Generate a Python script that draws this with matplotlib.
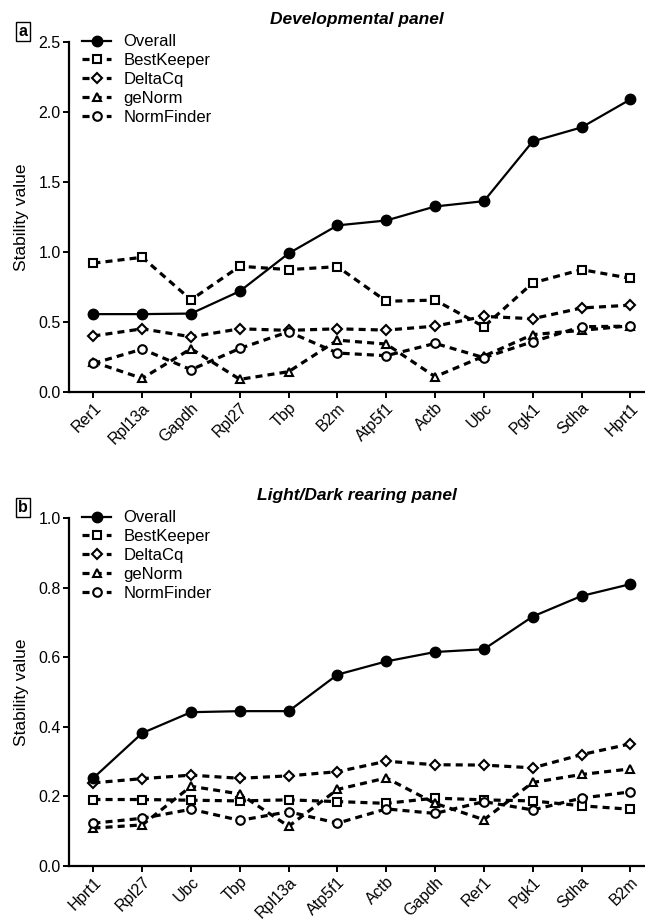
import numpy as np
import matplotlib
matplotlib.use("Agg")
import matplotlib.pyplot as plt

plt.rcParams['font.family'] = ['Liberation Sans', 'DejaVu Sans']

# panel a - developmental
genes_a = ["Rer1", "Rpl13a", "Gapdh", "Rpl27", "Tbp", "B2m", "Atp5f1", "Actb", "Ubc", "Pgk1", "Sdha", "Hprt1"]
overall_a = [0.556, 0.556, 0.56, 0.72, 0.99, 1.19, 1.225, 1.325, 1.363, 1.79, 1.89, 2.09]
bestkeeper_a = [0.92, 0.962, 0.658, 0.898, 0.874, 0.895, 0.648, 0.656, 0.466, 0.779, 0.874, 0.812]
deltacq_a = [0.40, 0.451, 0.394, 0.451, 0.44, 0.451, 0.442, 0.47, 0.54, 0.523, 0.60, 0.62]
genorm_a = [0.214, 0.097, 0.309, 0.09, 0.145, 0.37, 0.342, 0.109, 0.256, 0.41, 0.44, 0.473]
normfinder_a = [0.204, 0.306, 0.159, 0.311, 0.43, 0.278, 0.259, 0.347, 0.245, 0.359, 0.466, 0.47]

# panel b - light/dark rearing
genes_b = ["Hprt1", "Rpl27", "Ubc", "Tbp", "Rpl13a", "Atp5f1", "Actb", "Gapdh", "Rer1", "Pgk1", "Sdha", "B2m"]
overall_b = [0.253, 0.382, 0.442, 0.445, 0.445, 0.55, 0.588, 0.615, 0.623, 0.717, 0.776, 0.81]
bestkeeper_b = [0.191, 0.191, 0.189, 0.187, 0.19, 0.185, 0.18, 0.195, 0.19, 0.187, 0.173, 0.163]
deltacq_b = [0.239, 0.251, 0.261, 0.252, 0.259, 0.271, 0.301, 0.291, 0.29, 0.282, 0.32, 0.351]
genorm_b = [0.109, 0.118, 0.229, 0.207, 0.114, 0.22, 0.253, 0.18, 0.133, 0.24, 0.263, 0.279]
normfinder_b = [0.123, 0.137, 0.163, 0.131, 0.156, 0.123, 0.164, 0.151, 0.185, 0.161, 0.195, 0.213]

method_names = ["Overall", "BestKeeper", "DeltaCq", "geNorm", "NormFinder"]
markers = ["o", "s", "D", "^", "o"]


def draw_panel(ax, genes, series, ymax, ystep, title, letter):
    x = np.arange(len(genes))
    # dashed methods first, overall on top
    for i in range(1, 5):
        ms = 5.4 if markers[i] == "D" else 6.2
        ax.plot(x, series[i], color="black", ls=(0, (2.2, 1.6)), lw=2.3,
                marker=markers[i], ms=ms, mfc="white", mec="black", mew=1.5,
                label=method_names[i], zorder=2)
    ax.plot(x, series[0], color="black", ls="-", lw=1.6, marker="o", ms=7.5,
            mfc="black", mec="black", label=method_names[0], zorder=3)

    ax.set_xlim(-0.5, 11.3)
    ax.set_ylim(0, ymax)
    ticks = np.arange(0, ymax + ystep / 2, ystep)
    ax.set_yticks(ticks)
    ax.set_yticklabels(["%.1f" % v for v in ticks])
    ax.set_xticks(x)
    ax.set_xticklabels(genes, rotation=45, ha="right", rotation_mode="anchor")
    ax.spines["top"].set_visible(False)
    ax.spines["right"].set_visible(False)
    ax.spines["left"].set_linewidth(1.6)
    ax.spines["bottom"].set_linewidth(1.6)
    ax.tick_params(axis="both", direction="out", length=4, width=1.4, labelsize=11.5, pad=2)
    ax.set_ylabel("Stability value", fontsize=12.5)
    ax.yaxis.set_label_coords(-0.07, 0.5)
    ax.set_title(title, fontsize=12.5, fontweight="bold", fontstyle="italic", pad=13)

    h, l = ax.get_legend_handles_labels()
    order = [4, 0, 1, 2, 3]
    ax.legend([h[k] for k in order], [l[k] for k in order], loc="upper left",
              bbox_to_anchor=(0.0, 1.06), frameon=False, fontsize=12,
              handlelength=1.7, handletextpad=0.75, labelspacing=0.23, borderaxespad=0.4)

    ax.text(-0.08, 1.03, letter, transform=ax.transAxes, fontsize=11.5, fontweight="bold",
            ha="center", va="center",
            bbox=dict(boxstyle="square,pad=0.15", fc="white", ec="black", lw=1.0))


fig = plt.figure(figsize=(6.45, 9.19), dpi=100)
ax1 = fig.add_axes([0.107, 0.5735, 0.893, 0.3808])
ax2 = fig.add_axes([0.107, 0.0577, 0.893, 0.3786])

draw_panel(ax1, genes_a, [overall_a, bestkeeper_a, deltacq_a, genorm_a, normfinder_a],
           2.5, 0.5, "Developmental panel", "a")
draw_panel(ax2, genes_b, [overall_b, bestkeeper_b, deltacq_b, genorm_b, normfinder_b],
           1.0, 0.2, "Light/Dark rearing panel", "b")

fig.savefig("out.png", dpi=100)
